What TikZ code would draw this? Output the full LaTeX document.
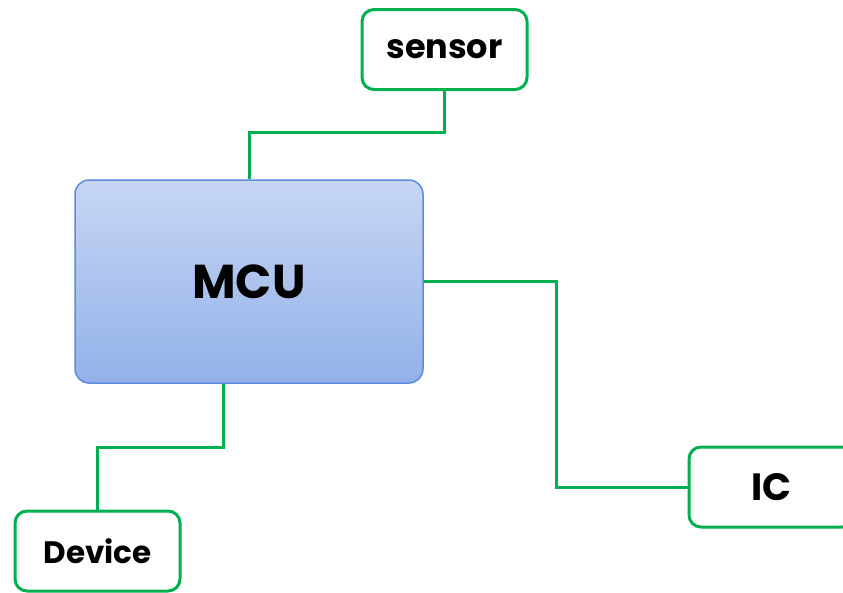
\documentclass[tikz,border=0pt]{standalone}
\usepackage{fontspec}
\setmainfont{Poppins}
\definecolor{grn}{HTML}{00B050}
\definecolor{mcuborder}{HTML}{5B8DDC}
\definecolor{mcutop}{HTML}{C7D6F4}
\definecolor{mcubot}{HTML}{93B1E9}
\begin{document}
\begin{tikzpicture}[x=1pt,y=-1pt,
  gbox/.style={draw=grn, line width=3pt, rounded corners=12pt, fill=white, minimum width=165pt, minimum height=80pt, inner sep=0pt, font=\bfseries},
  link/.style={draw=grn, line width=3pt}]
\useasboundingbox (0,0) rectangle (843,592);
\node[draw=mcuborder, line width=1.5pt, rounded corners=14pt, top color=mcutop, bottom color=mcubot, minimum width=348pt, minimum height=203pt, inner sep=0pt, font=\bfseries\fontsize{47.5}{50}\selectfont] (mcu) at (249,281.5) {MCU};
\node[gbox, font=\bfseries\fontsize{33.5}{36}\selectfont] (sensor) at (444.5,49.5) {sensor};
\node[gbox, font=\bfseries\fontsize{38}{40}\selectfont] (ic) at (771.5,487) {IC};
\node[gbox, font=\bfseries\fontsize{31}{34}\selectfont] (device) at (97.5,551) {Device};
\draw[link] (mcu.north) -- ++(0,-47) -| (sensor.south);
\coordinate (c2) at (556,400);
\draw[link] (mcu.east) -| (c2) |- (ic.west);
\draw[link] ([xshift=-26pt]mcu.south) -- ++(0,64) -| (device.north);
\end{tikzpicture}
\end{document}
